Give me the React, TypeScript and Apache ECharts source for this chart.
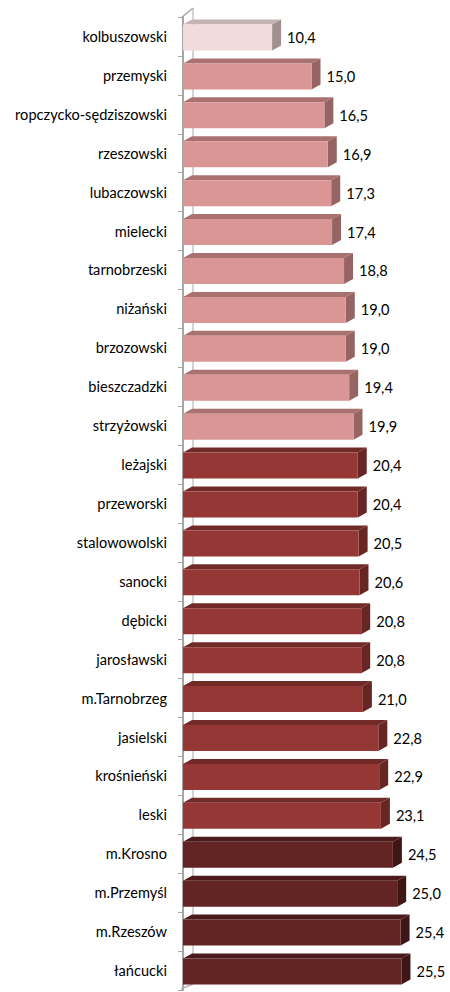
import React, { useEffect, useRef } from "react";
import * as echarts from "echarts";

const categories = [
  "kolbuszowski", "przemyski", "ropczycko-sędziszowski", "rzeszowski", "lubaczowski",
  "mielecki", "tarnobrzeski", "niżański", "brzozowski", "bieszczadzki", "strzyżowski",
  "leżajski", "przeworski", "stalowowolski", "sanocki", "dębicki", "jarosławski",
  "m.Tarnobrzeg", "jasielski", "krośnieński", "leski", "m.Krosno", "m.Przemyśl",
  "m.Rzeszów", "łańcucki",
];
const values = [
  10.4, 15.0, 16.5, 16.9, 17.3, 17.4, 18.8, 19.0, 19.0, 19.4, 19.9,
  20.4, 20.4, 20.5, 20.6, 20.8, 20.8, 21.0, 22.8, 22.9, 23.1, 24.5, 25.0, 25.4, 25.5,
];
const tiers = [0, 1, 1, 1, 1, 1, 1, 1, 1, 1, 1, 2, 2, 2, 2, 2, 2, 2, 2, 2, 2, 3, 3, 3, 3];

const palette = [
  { front: "#f2dcdb", top: "#c6b2b2", side: "#a18e8e" },
  { front: "#d99694", top: "#a97270", side: "#956463" },
  { front: "#953735", top: "#722a28", side: "#672624" },
  { front: "#632523", top: "#4a1b1a", side: "#3e1615" },
];

const FONT = "Lato, 'Open Sans', sans-serif";

export default function App() {
  const ref = useRef<HTMLDivElement>(null);
  useEffect(() => {
    if (!ref.current) return;
    const chart = echarts.init(ref.current, undefined, { renderer: "svg" });
    const dx = 9;
    const dy = 5;
    chart.setOption({
      animation: false,
      backgroundColor: "#ffffff",
      grid: { left: 183, right: 10, top: 17, bottom: 2 },
      xAxis: { type: "value", min: 0, max: 30, show: false },
      yAxis: {
        type: "category",
        inverse: true,
        data: categories,
        offset: 2,
        axisLine: { show: true, lineStyle: { color: "#a6a6a6", width: 2 } },
        axisTick: { show: true, length: 5, lineStyle: { color: "#a6a6a6", width: 1 } },
        axisLabel: { color: "#000", fontSize: 14.6, margin: 14, fontFamily: FONT },
      },
      graphic: [
        { type: "line", z: 0, shape: { x1: 193, y1: 8, x2: 193, y2: 984 }, style: { stroke: "#c4c4c4", lineWidth: 1.5 } },
        { type: "line", z: 0, shape: { x1: 181, y1: 18, x2: 193, y2: 8 }, style: { stroke: "#a6a6a6", lineWidth: 1.5 } },
        { type: "line", z: 0, shape: { x1: 181, y1: 989, x2: 193, y2: 984 }, style: { stroke: "#b4b4b4", lineWidth: 1.5 } },
      ],
      series: [
        {
          type: "custom",
          z: 3,
          data: values.map((v, i) => [v, i, tiers[i]]),
          encode: { x: 0, y: 1 },
          renderItem: (params: any, api: any) => {
            const v = api.value(0);
            const i = api.value(1);
            const col = palette[api.value(2)];
            const p0 = api.coord([0, i]);
            const p1 = api.coord([v, i]);
            const c = p1[1];
            const x0 = p0[0];
            const x1 = p1[0];
            const top = c - 12;
            const bot = c + 14;
            return {
              type: "group",
              children: [
                {
                  type: "polygon",
                  shape: { points: [[x0, top], [x0 + dx, top - dy], [x1 + dx, top - dy], [x1, top]] },
                  style: { fill: col.top },
                },
                {
                  type: "polygon",
                  shape: { points: [[x1, top], [x1 + dx, top - dy], [x1 + dx, bot - dy], [x1, bot]] },
                  style: { fill: col.side },
                },
                {
                  type: "rect",
                  shape: { x: x0, y: top, width: x1 - x0, height: bot - top },
                  style: { fill: col.front },
                },
                {
                  type: "text",
                  style: {
                    text: v.toFixed(1).replace(".", ","),
                    x: x1 + dx + 6,
                    y: c + 1,
                    verticalAlign: "middle",
                    align: "left",
                    fill: "#000",
                    fontSize: 14.6,
                    fontFamily: FONT,
                  },
                },
              ],
            };
          },
        },
      ],
    });
    return () => chart.dispose();
  }, []);
  return (
    <div
      ref={ref}
      style={{ position: "fixed", left: 0, top: 0, width: 450, height: 992, background: "#fff" }}
    />
  );
}
